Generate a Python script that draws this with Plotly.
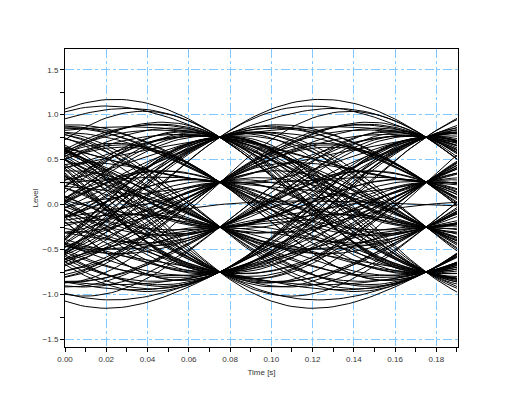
import numpy as np
import plotly.graph_objects as go

# 4-PAM symbol sequence (levels in units of 0.25), estimated from the eye pattern
symbols_q = [3, -1, 1, -3, -3, 1, 3, 3, -1, -1, 1, -3, 3, 1, -1, -3, 1, 1, -3, 3,
             -1, 3, -3, -1, 1, 3, -1, -3, -3, 3, 1, -1, 3, 1, -3, -1, -1, 3, -3, 1,
             1, -1, 3, -3, 3, -1, 1, -3, -1, 3, 3, -3, 1, -1, -3, 1, 3, -1, 1, -3,
             3, 3, -1, -3, 1, -1, -1, 3, 1, -3, -3, -1, 1, 3, -3, 1, -1, 3, -1, -3,
             1, 3, 1, -1, -3, 3, -3, -1, 3, 1, 1, -3, -1, 3, -1, 1, -3, 3, -1, -1,
             1, 3, -3, 1, 3, -1, -3, 1, -1, 3, -3, 3, -3, 1, 1, 3, -1, -3, 3, -1,
             -3, 3, 1, -1, -1, -3, 3, 3, -3, -1, 1, -1, 3, -3, 1, 3, -3, -1, -3, 1,
             3, -1, 1, 1, -3, 3, -1, 3, -3, -3]
level_step = 0.25
symbol_period = 0.1
sample_offset = 0.075
window_len = 0.19
rolloff = 0.25
x_ticks = [0.00, 0.02, 0.04, 0.06, 0.08, 0.10, 0.12, 0.14, 0.16, 0.18]
y_ticks = [-1.5, -1.0, -0.5, 0.0, 0.5, 1.0, 1.5]

a = np.array(symbols_q, dtype=float) * level_step
N = len(a)


def rc_pulse(t):
    x = t / symbol_period
    den = 1.0 - (2.0 * rolloff * x) ** 2
    out = np.sinc(x) * np.cos(np.pi * rolloff * x)
    sing = np.abs(den) < 1e-8
    den = np.where(sing, 1.0, den)
    out = out / den
    out = np.where(sing, (np.pi / 4) * np.sinc(1 / (2 * rolloff)), out)
    return out


tau = np.arange(0.0, window_len + 1e-9, 0.0025)
xs, ys = [], []
for j in range(N + 1):
    tg = j * symbol_period - sample_offset + tau
    s = np.zeros_like(tau)
    for k in range(max(0, j - 10), min(N, j + 11)):
        s += a[k] * rc_pulse(tg - k * symbol_period)
    xs.extend(tau.tolist() + [None])
    ys.extend(s.tolist() + [None])

fig = go.Figure()
fig.add_trace(go.Scatter(x=xs, y=ys, mode="lines",
                         line=dict(color="black", width=1),
                         connectgaps=False, hoverinfo="skip", showlegend=False))

font = dict(family="Liberation Sans, Arial, sans-serif", size=8, color="#333333")
axis_common = dict(
    showline=True, mirror=True, linecolor="black", linewidth=1,
    ticks="outside", ticklen=4, tickcolor="black", tickwidth=1,
    showgrid=True, gridcolor="#80C8FF", griddash="dashdot", gridwidth=1,
    zeroline=False, tickfont=font,
)

fig.update_layout(
    width=517, height=389,
    margin=dict(l=57, r=67, t=41, b=50),
    paper_bgcolor="white", plot_bgcolor="white",
    xaxis=dict(range=[0, 0.1905], tickvals=x_ticks, tickformat=".2f",
               minor=dict(dtick=0.01, tick0=0, ticks="outside", ticklen=4,
                          tickcolor="black", showgrid=False),
               title=dict(text="Time [s]", standoff=6, font=font),
               **axis_common),
    yaxis=dict(range=[-1.583, 1.73], tickvals=y_ticks, tickformat=".1f",
               minor=dict(dtick=0.25, tick0=0, ticks="outside", ticklen=4,
                          tickcolor="black", showgrid=False),
               title=dict(text="Level", standoff=2, font=font),
               **axis_common),
)

fig.write_html("out.html")
